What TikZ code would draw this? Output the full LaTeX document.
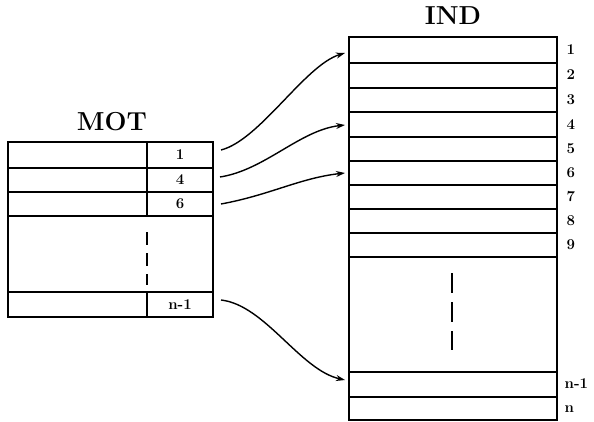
\documentclass[tikz,border=0pt]{standalone}
\usetikzlibrary{arrows.meta}
\begin{document}
\begin{tikzpicture}[x=1pt,y=-1pt,line width=1.4pt,
  lab/.style={font=\bfseries\fontsize{15}{17}\selectfont,inner sep=0pt},
  ttl/.style={font=\bfseries\fontsize{26}{30}\selectfont,inner sep=0pt},
  conn/.style={line width=1.4pt,-{Stealth[length=9pt,width=6pt]}}]
\useasboundingbox (0,0) rectangle (594,422);
% MOT table
\node[ttl] (mot) at (112,122) {MOT};
\draw (8,142) rectangle (213,317);
\foreach \y in {168,192,216,292} \draw (8,\y) -- (213,\y);
\draw (147,142) -- (147,216);
\draw (147,292) -- (147,317);
\draw[dash pattern=on 13pt off 8pt] (147,232) -- (147,285);
\node[lab] (m1) at (180,155) {1};
\node[lab] (m4) at (180,180) {4};
\node[lab] (m6) at (180,204) {6};
\node[lab] (mn) at (180,305) {n-1};
\coordinate (s1) at (221,150);
\coordinate (s4) at (220,177);
\coordinate (s6) at (221,204);
\coordinate (sn) at (221,300);
% IND table
\node[ttl] (ind) at (453,16) {IND};
\draw (349,37) rectangle (557,420);
\foreach \y in {63,88,112,137,161,185,209,233,257,372,397} \draw (349,\y) -- (557,\y);
\draw[dash pattern=on 20pt off 9pt] (452,273) -- (452,350);
\foreach \t/\y [count=\i] in {1/50,2/75,3/100,4/125,5/149,6/173,7/197,8/221,9/245} {
  \node[lab,anchor=west] (i\i) at (566,\y) {\t};
}
\node[lab,anchor=west] (inm) at (564,384) {n-1};
\node[lab,anchor=west] (inn) at (564,409) {n};
\coordinate (t1) at (345,53);
\coordinate (t4) at (345,125);
\coordinate (t6) at (345,173);
\coordinate (tn) at (345,380);
\draw[conn] (s1) .. controls (260,140) and (305,65) .. (t1);
\draw[conn] (s4) .. controls (265,170) and (300,130) .. (t4);
\draw[conn] (s6) .. controls (270,195) and (300,178) .. (t6);
\draw[conn] (sn) .. controls (265,305) and (300,370) .. (tn);
\end{tikzpicture}
\end{document}
